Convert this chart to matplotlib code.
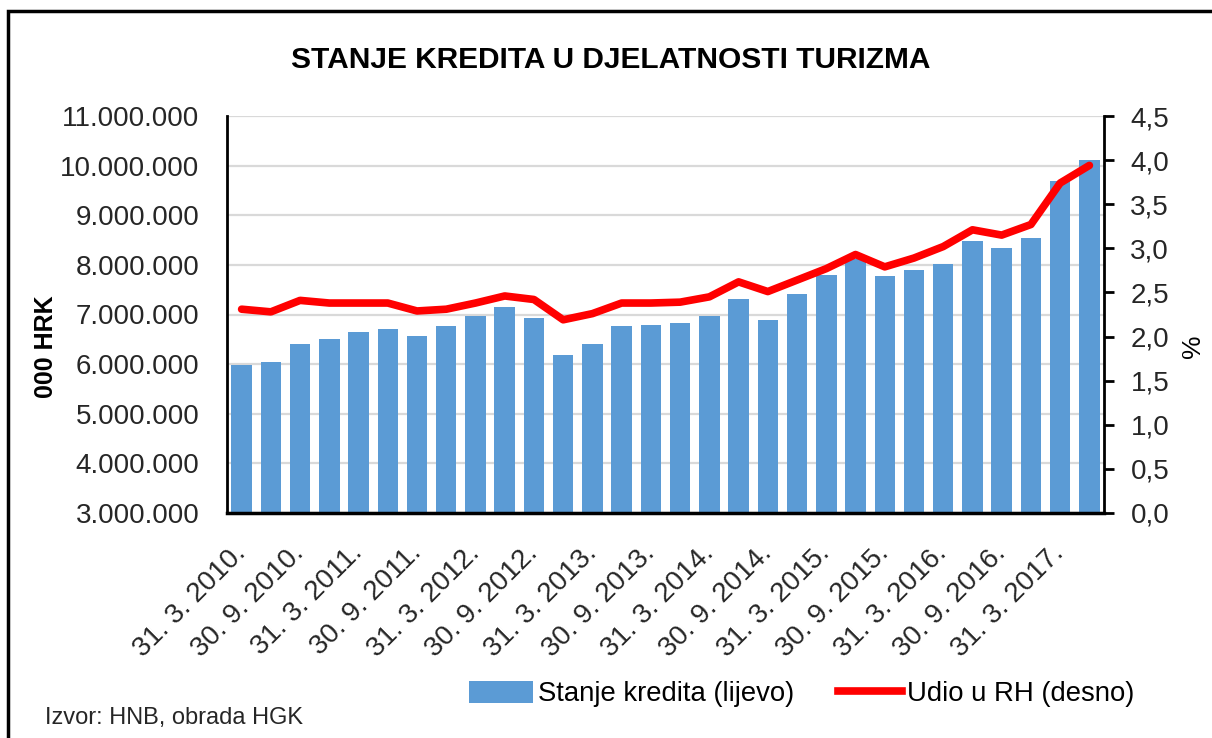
import numpy as np
import matplotlib
matplotlib.use('Agg')
import matplotlib.pyplot as plt
from matplotlib.lines import Line2D
from matplotlib.patches import Patch, Rectangle
from matplotlib.ticker import FuncFormatter, MultipleLocator

plt.rcParams['font.family'] = ['Liberation Sans Narrow', 'Liberation Sans', 'DejaVu Sans']

# quarter-end dates 31.3.2010 .. 30.6.2017
quarters = []
for y in range(2010, 2018):
    for d in ['31. 3.', '30. 6.', '30. 9.', '31. 12.']:
        quarters.append('%s %d.' % (d, y))
quarters = quarters[:30]

# stanje kredita, 000 HRK (lijevo)
credit = [5990000, 6050000, 6410000, 6500000, 6640000, 6700000, 6570000, 6770000,
          6960000, 7150000, 6930000, 6180000, 6410000, 6770000, 6790000, 6830000,
          6960000, 7320000, 6890000, 7410000, 7800000, 8120000, 7770000, 7890000,
          8020000, 8480000, 8350000, 8540000, 9700000, 10120000]
# udio u RH, % (desno)
share = [2.31, 2.28, 2.41, 2.38, 2.38, 2.38, 2.29, 2.31, 2.38, 2.46,
         2.42, 2.19, 2.26, 2.38, 2.38, 2.39, 2.45, 2.62, 2.51, 2.64,
         2.77, 2.93, 2.79, 2.89, 3.02, 3.21, 3.15, 3.27, 3.74, 3.94]

bar_col = '#5B9BD5'
line_col = '#FF0000'
fs = 18

fig = plt.figure(figsize=(12.12, 7.38), dpi=100)
ax = fig.add_axes([227/1212., 1-513/738., (1104-227)/1212., (513-116)/738.])
x = np.arange(len(credit))
ax.bar(x, credit, width=0.7, color=bar_col, zorder=2)
ax.set_xlim(-0.5, len(credit)-0.5)
ax.set_ylim(3000000, 11000000)
ax.yaxis.set_major_locator(MultipleLocator(1000000))
ax.yaxis.set_major_formatter(FuncFormatter(lambda v, p: '{:,}'.format(int(v)).replace(',', '.')))
ax.grid(axis='y', color='#D9D9D9', lw=1.6, zorder=0)
ax.set_axisbelow(True)
ax.tick_params(axis='y', length=0, labelsize=fs+2, pad=20, colors='#262626')
ax.set_xticks(x[::2])
ax.set_xticklabels(quarters[::2], rotation=45, ha='right', va='center',
                   rotation_mode='anchor', fontsize=fs+2, color='#262626')
ax.tick_params(axis='x', length=0, pad=26)
for s in ['top', 'right']:
    ax.spines[s].set_visible(False)
ax.spines['left'].set_linewidth(2)
ax.spines['bottom'].set_linewidth(2.5)
ax.set_ylabel('000 HRK', fontsize=fs, fontweight='bold')
ax.yaxis.set_label_coords((58-227)/877., 0.42)

ax2 = ax.twinx()
ax2.plot(x, share, color=line_col, lw=5.5, solid_capstyle='round', zorder=3)
ax2.set_ylim(0, 4.5)
ax2.yaxis.set_major_locator(MultipleLocator(0.5))
ax2.yaxis.set_major_formatter(FuncFormatter(lambda v, p: ('%.1f' % v).replace('.', ',')))
ax2.tick_params(axis='y', direction='out', length=7, width=2, labelsize=fs+2, pad=12, colors='#262626')
ax2.tick_params(axis='y', color='black')
for s in ['top', 'left', 'bottom']:
    ax2.spines[s].set_visible(False)
ax2.spines['right'].set_linewidth(2)
ax2.set_ylabel('%', fontsize=fs+1)
ax2.yaxis.set_label_coords((1181-227)/877., 0.42)

fig.text(611/1212., 1-60/738., 'STANJE KREDITA U DJELATNOSTI TURIZMA', ha='center', va='center',
         fontsize=21.5, fontweight='bold', color='black')

handles = [Patch(facecolor=bar_col, edgecolor='none'), Line2D([], [], color=line_col, lw=5.5)]
fig.legend(handles, ['Stanje kredita (lijevo)', 'Udio u RH (desno)'], loc='center',
           bbox_to_anchor=(802/1212., 1-694/738.), ncol=2, frameon=False, fontsize=fs+1.8,
           handlelength=2.3, handleheight=0.9, handletextpad=0.2, columnspacing=1.6)

fig.text(45/1212., 1-718/738., 'Izvor: HNB, obrada HGK', ha='left', va='center', fontsize=17, color='#262626')

# outer frame (left and top edges visible)
fig.add_artist(Rectangle((8/1212., -0.1), 2, 1.1 - 11/738., transform=fig.transFigure,
                         fill=False, edgecolor='black', lw=2.5))

fig.savefig('out.png', dpi=100)
